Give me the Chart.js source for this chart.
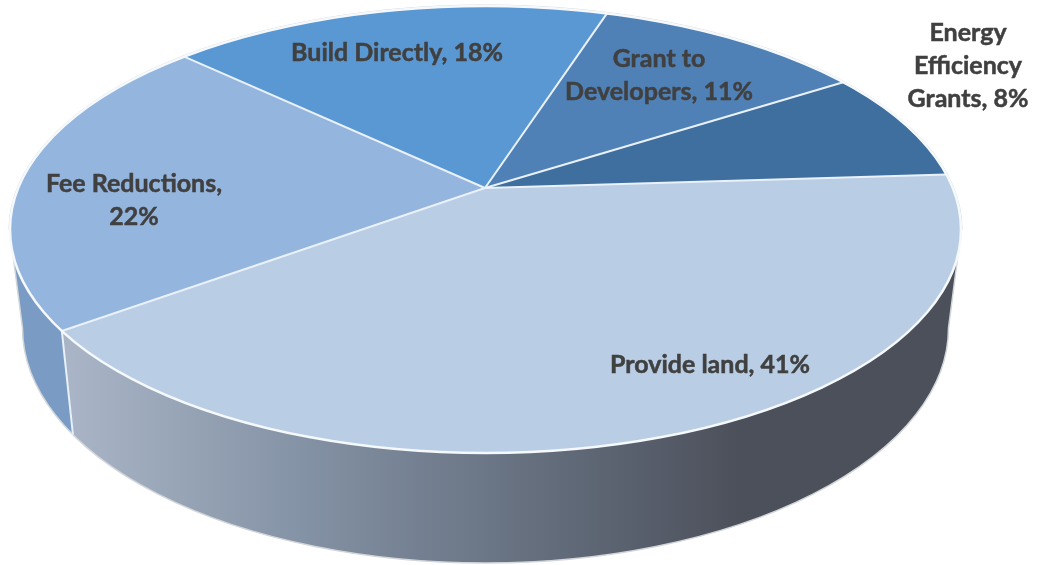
<!DOCTYPE html>
<html>
<head>
<meta charset="utf-8">
<title>Pie</title>
<style>
  html, body { margin: 0; background: #fff; }
  canvas { display: block; }
</style>
<script src="https://cdn.jsdelivr.net/npm/chart.js@4/dist/chart.umd.js"></script>
</head>
<body>
<canvas id="chart" width="1037" height="565"></canvas>
<script>
const categories = ['Provide land', 'Fee Reductions', 'Build Directly', 'Grant to Developers', 'Energy Efficiency Grants'];
const shares = [41, 22, 18, 11, 8];
const sliceColors = ['#B9CDE5', '#94B5DD', '#5A98D4', '#4F81B6', '#3E6F9E'];

// wrap width and centre of every label
const labelWrap = [260, 190, 260, 195, 135];
const labelCentres = [[710, 365], [134, 200], [397, 53], [659, 75], [968, 66]];

// the disc: apex sits above the centre of the rim, as in a tilted view
const apex = { x: 485, y: 188 };
const squash = 0.465;
const rim = { x: 485.5, y: 229.5, rx: 475.5, ry: 223.5 };
const base = { x: 485.5, y: 328, rx: 463, ry: 235 };

function wallPath(ctx) {
  ctx.beginPath();
  ctx.moveTo(rim.x - rim.rx + 1, rim.y + 10);
  ctx.lineTo(base.x - base.rx, base.y);
  ctx.ellipse(base.x, base.y, base.rx, base.ry, 0, Math.PI, 0, true);
  ctx.lineTo(rim.x + rim.rx - 1, rim.y + 10);
  ctx.closePath();
}

// where a slice edge leaves the apex and meets the rim
function rimPoint(angle) {
  const dx = Math.cos(angle);
  const dy = Math.sin(angle) * squash;
  const ox = (apex.x - rim.x) / rim.rx;
  const oy = (apex.y - rim.y) / rim.ry;
  const ux = dx / rim.rx;
  const uy = dy / rim.ry;
  const a = ux * ux + uy * uy;
  const b = 2 * (ox * ux + oy * uy);
  const c = ox * ox + oy * oy - 1;
  const t = (-b + Math.sqrt(b * b - 4 * a * c)) / (2 * a);
  return { x: apex.x + dx * t, y: apex.y + dy * t };
}

function drawWall(chart) {
  const ctx = chart.ctx;
  const arc = chart.getDatasetMeta(0).data[0];
  const top = rimPoint(arc.endAngle);
  const bottom = {
    x: base.x + (top.x - rim.x) * base.rx / rim.rx,
    y: base.y + (top.y - rim.y) * base.ry / rim.ry,
  };

  const shade = ctx.createLinearGradient(70, 0, 740, 0);
  shade.addColorStop(0, '#A9B5C6');
  shade.addColorStop(0.35, '#8492A5');
  shade.addColorStop(0.7, '#646E7D');
  shade.addColorStop(1, '#4C505B');

  ctx.save();
  wallPath(ctx);
  ctx.fillStyle = shade;
  ctx.fill();
  ctx.save();
  ctx.clip();
  ctx.beginPath();
  ctx.moveTo(top.x, top.y);
  ctx.lineTo(bottom.x + 8, bottom.y + 60);
  ctx.lineTo(0, bottom.y + 60);
  ctx.lineTo(0, top.y - 120);
  ctx.lineTo(top.x, top.y - 120);
  ctx.closePath();
  ctx.fillStyle = '#7A9CC4';
  ctx.fill();
  ctx.restore();
  wallPath(ctx);
  ctx.strokeStyle = '#D2D5D9';
  ctx.lineWidth = 1.5;
  ctx.stroke();
  ctx.beginPath();
  ctx.moveTo(top.x, top.y);
  ctx.lineTo(bottom.x, bottom.y);
  ctx.strokeStyle = '#E8F0F9';
  ctx.lineWidth = 2;
  ctx.stroke();
  ctx.restore();
}

function wrapLabel(ctx, text, width) {
  const lines = [];
  let line = '';
  text.split(' ').forEach(word => {
    const next = line ? line + ' ' + word : word;
    if (line && ctx.measureText(next).width > width) {
      lines.push(line);
      line = word;
    } else {
      line = next;
    }
  });
  lines.push(line);
  return lines;
}

const tiltedPie = {
  id: 'tiltedPie',
  beforeDatasetsDraw(chart) {
    const ctx = chart.ctx;
    const arc = chart.getDatasetMeta(0).data[0];
    drawWall(chart);
    ctx.save();
    ctx.beginPath();
    ctx.ellipse(rim.x, rim.y, rim.rx, rim.ry, 0, 0, Math.PI * 2);
    ctx.clip();
    ctx.translate(apex.x, apex.y);
    ctx.scale(1, squash);
    ctx.translate(-arc.x, -arc.y);
  },
  afterDatasetsDraw(chart) {
    const ctx = chart.ctx;
    ctx.restore();
    ctx.save();

    // slice edges, drawn here so the squash does not thin them
    chart.getDatasetMeta(0).data.forEach(arc => {
      const end = rimPoint(arc.endAngle);
      ctx.beginPath();
      ctx.moveTo(apex.x, apex.y);
      ctx.lineTo(end.x, end.y);
      ctx.strokeStyle = '#EAF1FA';
      ctx.lineWidth = 2;
      ctx.stroke();
    });

    // rim highlight, grey only over the back half
    ctx.beginPath();
    ctx.ellipse(rim.x, rim.y, rim.rx + 1, rim.ry + 1, 0, Math.PI, 0);
    ctx.strokeStyle = '#CFD2D6';
    ctx.lineWidth = 1;
    ctx.stroke();
    ctx.beginPath();
    ctx.ellipse(rim.x, rim.y, rim.rx, rim.ry, 0, 0, Math.PI * 2);
    ctx.strokeStyle = '#F6F9FC';
    ctx.lineWidth = 2.5;
    ctx.stroke();

    ctx.font = '700 25px Lato';
    ctx.fillStyle = '#404040';
    ctx.strokeStyle = '#404040';
    ctx.lineWidth = 0.5;
    ctx.textAlign = 'center';
    ctx.textBaseline = 'middle';
    categories.forEach((name, i) => {
      const lines = wrapLabel(ctx, name + ', ' + shares[i] + '%', labelWrap[i]);
      const [cx, cy] = labelCentres[i];
      lines.forEach((line, n) => {
        const y = cy + (n - (lines.length - 1) / 2) * 33;
        ctx.fillText(line, cx, y);
        ctx.strokeText(line, cx, y);
      });
    });
    ctx.restore();
  },
};

new Chart(document.getElementById('chart'), {
  type: 'pie',
  plugins: [tiltedPie],
  data: {
    labels: categories,
    datasets: [
      {
        data: shares,
        backgroundColor: sliceColors,
        borderWidth: 0,
        clip: false,
      },
    ],
  },
  options: {
    responsive: false,
    animation: false,
    rotation: 86.4,
    radius: 640,
    plugins: {
      legend: { display: false },
      tooltip: { enabled: false },
    },
  },
});
</script>
</body>
</html>
